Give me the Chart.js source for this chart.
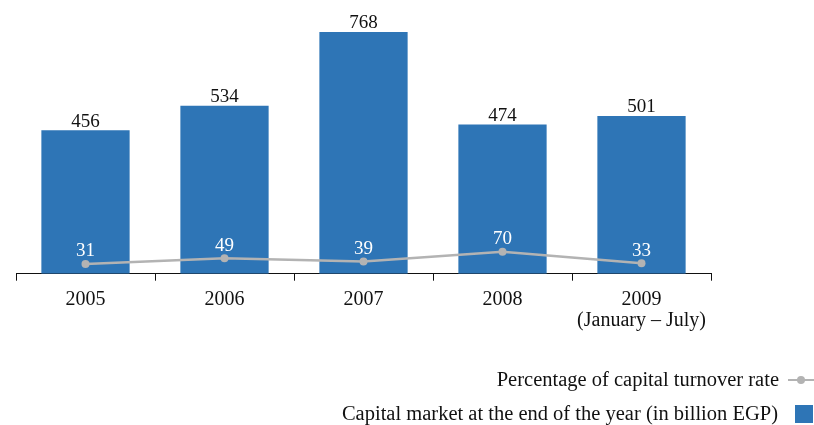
<!DOCTYPE html>
<html>
<head>
<meta charset="utf-8">
<script src="https://cdn.jsdelivr.net/npm/chart.js@4/dist/chart.umd.min.js"></script>
<style>
  html, body { margin: 0; padding: 0; background: #fff; }
  #wrap { position: relative; width: 814px; height: 425px; overflow: hidden; }
  #legend { position: absolute; right: 0; top: 0; width: 814px; height: 425px; pointer-events: none;
            font-family: "Liberation Serif", "DejaVu Serif", serif; font-size: 20.5px; color: #111; }
  .row { position: absolute; right: 0; display: flex; align-items: center; justify-content: flex-end; white-space: nowrap; }
  .lineKey { position: relative; width: 26px; height: 2px; background: #b3b3b3; margin-left: 9px; }
  .lineKey:after { content: ""; position: absolute; left: 9px; top: -3px; width: 8px; height: 8px; border-radius: 50%; background: #b3b3b3; }
  .boxKey { width: 18px; height: 18px; background: #2e75b6; margin-left: 17px; margin-right: 1px; }
</style>
</head>
<body>
<div id="wrap">
  <canvas id="capitalChart" width="814" height="425"></canvas>
  <div id="legend"></div>
</div>
<script>
'use strict';

var years = ['2005', '2006', '2007', '2008', ['2009', '(January \u2013 July)']];
var marketCap = [456, 534, 768, 474, 501];
var turnoverRate = [31, 49, 39, 70, 33];
var seriesNames = ['Percentage of capital turnover rate', 'Capital market at the end of the year (in billion EGP)'];

var barBlue = '#2e75b6';
var lineGrey = '#b3b3b3';
var serif = '"Liberation Serif", "DejaVu Serif", serif';

// value labels: black above the bars, white above the line points
var valueLabels = {
    id: 'valueLabels',
    afterDatasetsDraw: function (chart) {
        var ctx = chart.ctx;
        ctx.save();
        ctx.textAlign = 'center';
        ctx.textBaseline = 'bottom';
        ctx.font = '19px ' + serif;
        chart.data.datasets.forEach(function (ds, i) {
            var meta = chart.getDatasetMeta(i);
            meta.data.forEach(function (el, j) {
                if (ds.type === 'line') {
                    ctx.fillStyle = '#ffffff';
                    ctx.fillText(ds.data[j], el.x, el.y - 3);
                } else {
                    ctx.fillStyle = '#111111';
                    ctx.fillText(ds.data[j], el.x, el.y + 1);
                }
            });
        });
        ctx.restore();
    }
};

new Chart(document.getElementById('capitalChart'), {
    type: 'bar',
    data: {
        labels: years,
        datasets: [{
            type: 'line',
            label: seriesNames[0],
            data: turnoverRate,
            borderColor: lineGrey,
            backgroundColor: lineGrey,
            borderWidth: 2.5,
            pointRadius: 4,
            pointBackgroundColor: lineGrey,
            pointBorderWidth: 0,
            tension: 0,
            order: 0
        }, {
            type: 'bar',
            label: seriesNames[1],
            data: marketCap,
            backgroundColor: barBlue,
            categoryPercentage: 1,
            barPercentage: 0.635,
            order: 1
        }]
    },
    options: {
        responsive: false,
        animation: false,
        layout: { padding: { left: 16, right: 103, top: 9, bottom: 85.5 } },
        plugins: {
            legend: { display: false },
            tooltip: { enabled: false }
        },
        scales: {
            x: {
                offset: true,
                border: { display: true, color: '#111', width: 1 },
                grid: { display: true, drawOnChartArea: false, drawTicks: true, tickLength: 7, color: '#111', lineWidth: 1 },
                ticks: { color: '#111', padding: 9, font: { family: serif, size: 20, lineHeight: 1.02 }, maxRotation: 0 }
            },
            y: {
                display: false,
                min: 0,
                max: 841
            }
        }
    },
    plugins: [valueLabels]
});

// legend rows, right aligned below the plot
var legend = document.getElementById('legend');
legend.innerHTML =
    '<div class="row" style="top:368px">' + seriesNames[0] + '<span class="lineKey"></span></div>' +
    '<div class="row" style="top:402px">' + seriesNames[1] + '<span class="boxKey"></span></div>';
</script>
</body>
</html>
